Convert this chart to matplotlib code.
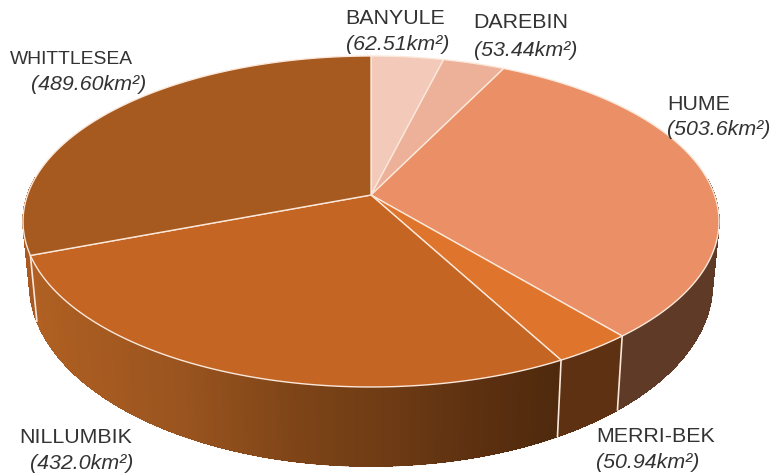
import numpy as np
import matplotlib
matplotlib.use("Agg")
import matplotlib.pyplot as plt
from matplotlib.collections import PolyCollection, LineCollection

plt.rcParams['font.family'] = ['Liberation Sans', 'DejaVu Sans']

# Data
councils = ["BANYULE", "DAREBIN", "HUME", "MERRI-BEK", "NILLUMBIK", "WHITTLESEA"]
areas = [62.51, 53.44, 503.6, 50.94, 432.0, 489.60]
area_labels = ["(62.51km²)", "(53.44km²)", "(503.6km²)", "(50.94km²)", "(432.0km²)", "(489.60km²)"]

# Colours
top_colours = ["#F3C9BA", "#EDB098", "#EA8F66", "#DF742C", "#C46524", "#A65A20"]
flat_side_colours = {"HUME": "#5F3A26", "MERRI-BEK": "#5E3112", "WHITTLESEA": "#A85A22"}
edge_colour = "#FBE8DA"

# Nillumbik side has a gradient running left to right
side_x = [30, 180, 300, 400, 480, 560]
side_r = [0xB0, 0x9A, 0x7D, 0x6C, 0x5C, 0x4F]
side_g = [0x60, 0x54, 0x44, 0x3A, 0x30, 0x2A]
side_b = [0x22, 0x1F, 0x17, 0x14, 0x10, 0x0D]

# Label positions: name (x, y), area (x, y)
label_pos = {
    "BANYULE": (345, 19, 346, 44),
    "DAREBIN": (473, 23, 474, 50),
    "HUME": (667, 104, 667, 130),
    "MERRI-BEK": (596, 437, 596, 463),
    "NILLUMBIK": (19, 438, 30, 464),
    "WHITTLESEA": (10, 59, 31, 84),
}
name_size = {"WHITTLESEA": 13.9}

# Perspective of the disc, in pixels of the picture
K = 0.16
CX = 371


def top_disc(theta, r=1.0):
    # theta runs clockwise from 12 o'clock
    x = r * np.sin(theta)
    y = r * np.cos(theta)
    d = 1 + K * y
    return CX + 343.5 * x / d, (196 - 129.9 * y) / d


def bottom_disc(theta):
    x = np.sin(theta)
    y = np.cos(theta)
    d = 1 + K * y
    return CX + 337.0 * x / d, (255.5 - 136.8 * y) / d


fig = plt.figure(figsize=(7.73, 4.77), dpi=100)
ax = fig.add_axes([0, 0, 1, 1])
ax.set_xlim(0, 773)
ax.set_ylim(477, 0)
ax.axis("off")

bounds = np.radians(np.concatenate([[0], np.cumsum(areas)]) / np.sum(areas) * 360)

# Side walls, thin strips so the gradient is smooth
wall_polys = []
wall_cols = []
rim_segs = []
for name, a, b in zip(councils, bounds[:-1], bounds[1:]):
    n = int(np.degrees(b - a) * 2) + 2
    t = np.linspace(a, b, n)
    x0, y0 = top_disc(t)
    x1, y1 = bottom_disc(t)
    for i in range(n - 1):
        if np.cos(t[i]) > 0.1:
            continue
        wall_polys.append([(x0[i], y0[i]), (x0[i + 1], y0[i + 1]), (x1[i + 1], y1[i + 1]), (x1[i], y1[i])])
        rim_segs.append([(x1[i], y1[i]), (x1[i + 1], y1[i + 1])])
        if name in flat_side_colours:
            wall_cols.append(flat_side_colours[name])
        else:
            wall_cols.append((np.interp(x0[i], side_x, side_r) / 255,
                              np.interp(x0[i], side_x, side_g) / 255,
                              np.interp(x0[i], side_x, side_b) / 255))
ax.add_collection(PolyCollection(wall_polys, facecolors=wall_cols, edgecolors=wall_cols,
                                 linewidths=0.5, antialiased=False, zorder=1))
# smooth lower edge, the strips themselves are not antialiased
ax.add_collection(LineCollection(rim_segs, colors=wall_cols, linewidths=1.0, capstyle="round", zorder=1))

# White lines between the walls
for b in bounds[3:6]:
    ax.plot([top_disc(b)[0], bottom_disc(b)[0]], [top_disc(b)[1], bottom_disc(b)[1]],
            color=edge_colour, lw=1.2, zorder=2)

# Top of the pie
apex = top_disc(0.0, r=0.0)
for i in range(len(areas)):
    t = np.linspace(bounds[i], bounds[i + 1], 200)
    x, y = top_disc(t)
    ax.fill(np.r_[apex[0], x], np.r_[apex[1], y], facecolor=top_colours[i],
            edgecolor=edge_colour, lw=1.0, joinstyle="round", zorder=3)

# Labels
for name, area in zip(councils, area_labels):
    nx, ny, tx, ty = label_pos[name]
    ax.text(nx, ny, name, fontsize=name_size.get(name, 15.4), color="#333333", ha="left", va="center", zorder=5)
    ax.text(tx, ty, area, fontsize=15.4, style="italic", color="#333333", ha="left", va="center", zorder=5)

fig.savefig("out.png", dpi=100)
